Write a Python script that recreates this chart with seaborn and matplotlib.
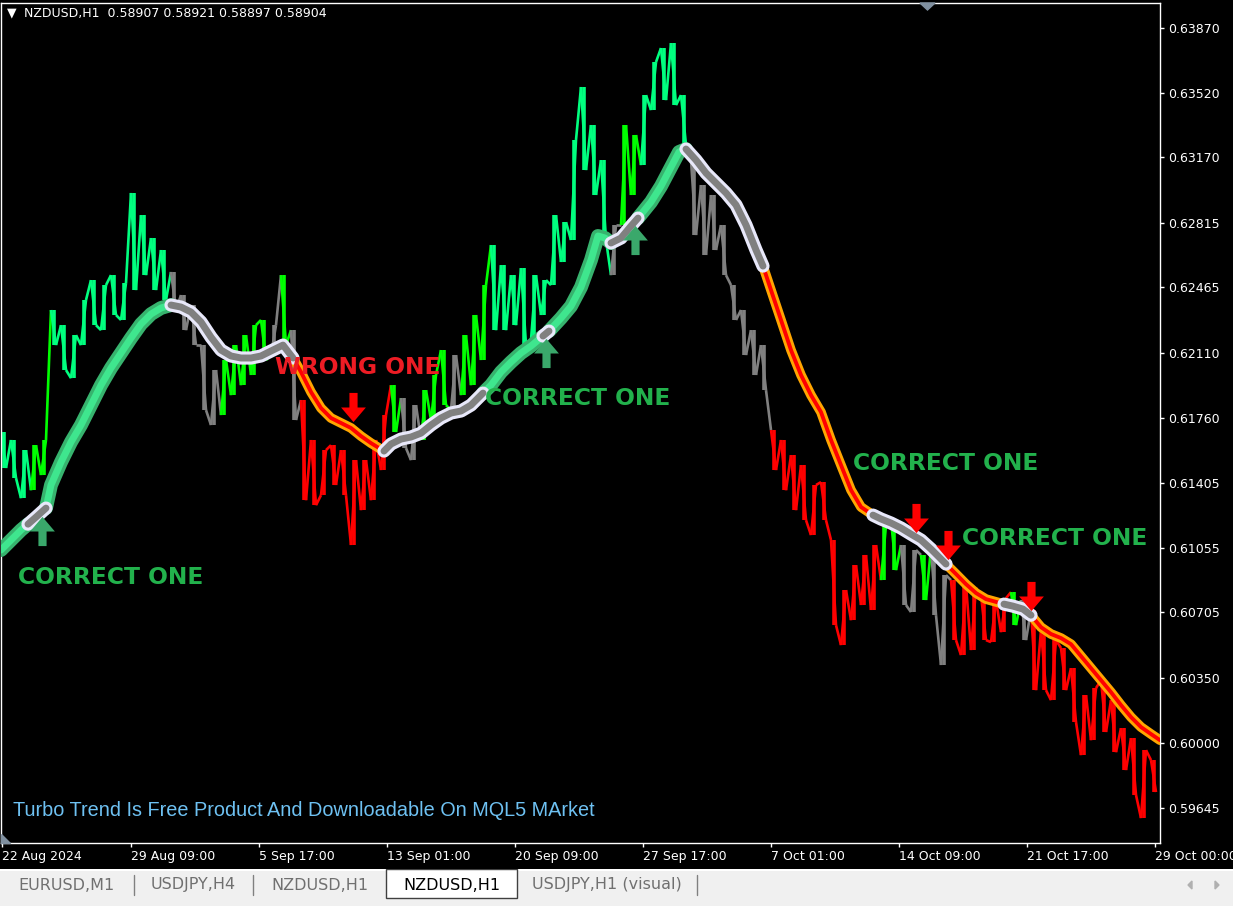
import numpy as np
import matplotlib
matplotlib.use("Agg")
import matplotlib.pyplot as plt
import seaborn as sns
import pandas as pd
from matplotlib.path import Path
from matplotlib.collections import LineCollection
from matplotlib.patches import Rectangle, Polygon
import matplotlib.patheffects as pe

# ---------------- data ----------------
symbol = "NZDUSD,H1"
ohlc_last = ["0.58907", "0.58921", "0.58897", "0.58904"]

col_bar = list(range(0, 1160, 10))
bar_high = [
    0.61682, 0.61639, 0.61584, 0.61611, 0.61639, 0.62343, 0.62261, 0.62207, 0.62397, 0.62505,
    0.62478, 0.62532, 0.62489, 0.62977, 0.62857, 0.62733, 0.62668, 0.62549, 0.62424, 0.62370,
    0.62153, 0.62018, 0.62072, 0.62153, 0.62207, 0.62261, 0.62289, 0.62261, 0.62532, 0.62234,
    0.61855, 0.61639, 0.61584, 0.61611, 0.61584, 0.61530, 0.61530, 0.61639, 0.61774, 0.61936,
    0.61866, 0.61828, 0.61909, 0.61991, 0.62126, 0.62099, 0.62207, 0.62316, 0.62478, 0.62695,
    0.62586, 0.62532, 0.62570, 0.62532, 0.62505, 0.62857, 0.62819, 0.63264, 0.63551, 0.63345,
    0.63155, 0.62803, 0.63345, 0.63291, 0.63507, 0.63686, 0.63762, 0.63789, 0.63507, 0.63155,
    0.63020, 0.62966, 0.62803, 0.62478, 0.62343, 0.62234, 0.62153, 0.61693, 0.61639, 0.61557,
    0.61503, 0.61395, 0.61411, 0.61097, 0.60826, 0.60961, 0.61016, 0.61070, 0.61178, 0.61205,
    0.61070, 0.61043, 0.61016, 0.61053, 0.60907, 0.60880, 0.60853, 0.60837, 0.60799, 0.60772,
    0.60782, 0.60815, 0.60772, 0.60718, 0.60609, 0.60555, 0.60512, 0.60403, 0.60257, 0.60295,
    0.60338, 0.60230, 0.60078, 0.60024, 0.59959, 0.59905,
]
bar_low = [
    0.61487, 0.61433, 0.61324, 0.61367, 0.61449, 0.62153, 0.62018, 0.61974, 0.62153, 0.62261,
    0.62234, 0.62316, 0.62289, 0.62451, 0.62532, 0.62451, 0.62397, 0.62343, 0.62234, 0.62153,
    0.61801, 0.61720, 0.61774, 0.61882, 0.61936, 0.61991, 0.62072, 0.62099, 0.62153, 0.61747,
    0.61313, 0.61286, 0.61340, 0.61395, 0.61340, 0.61070, 0.61259, 0.61313, 0.61476, 0.61682,
    0.61595, 0.61530, 0.61639, 0.61747, 0.61828, 0.61801, 0.61882, 0.61936, 0.62072, 0.62234,
    0.62234, 0.62261, 0.62153, 0.62180, 0.62316, 0.62478, 0.62603, 0.62722, 0.63101, 0.62966,
    0.62722, 0.62532, 0.62803, 0.62966, 0.63128, 0.63426, 0.63480, 0.63453, 0.63237, 0.62749,
    0.62641, 0.62668, 0.62532, 0.62289, 0.62099, 0.61991, 0.61909, 0.61476, 0.61367, 0.61259,
    0.61205, 0.61124, 0.61205, 0.60636, 0.60528, 0.60663, 0.60745, 0.60718, 0.60880, 0.60934,
    0.60745, 0.60707, 0.60772, 0.60690, 0.60420, 0.60555, 0.60474, 0.60501, 0.60555, 0.60544,
    0.60598, 0.60636, 0.60555, 0.60284, 0.60284, 0.60230, 0.60284, 0.60111, 0.59932, 0.60013,
    0.60057, 0.59948, 0.59851, 0.59716, 0.59591, 0.59732,
]

trend_bar = [0, 10, 20, 27, 35, 45, 50, 60, 70, 80, 90, 100, 110, 120, 130, 140, 150, 160, 170,
             180, 190, 200, 210, 220, 230, 240, 250, 260, 270, 282, 292, 300, 310, 320, 330, 340,
             350, 360, 370, 383, 390, 400, 410, 420, 430, 440, 450, 460, 470, 482, 490, 500, 510,
             520, 530, 542, 548, 560, 570, 580, 590, 597, 604, 610, 620, 630, 637, 650, 660, 670,
             678, 685, 695, 705, 715, 725, 735, 745, 755, 762, 770, 780, 790, 800, 810, 820, 830,
             840, 850, 860, 872, 880, 890, 900, 910, 920, 930, 945, 955, 965, 975, 985, 1003, 1012,
             1022, 1030, 1040, 1050, 1060, 1070, 1080, 1090, 1100, 1110, 1120, 1130, 1140, 1150, 1159]
trend_price = [0.61043, 0.61097, 0.61151, 0.61183, 0.61221, 0.61270, 0.61395, 0.61519, 0.61628,
               0.61720, 0.61828, 0.61936, 0.62029, 0.62110, 0.62191, 0.62267, 0.62321, 0.62354,
               0.62370, 0.62359, 0.62332, 0.62278, 0.62196, 0.62126, 0.62094, 0.62083, 0.62083,
               0.62094, 0.62121, 0.62153, 0.62083, 0.62007, 0.61899, 0.61812, 0.61758, 0.61731,
               0.61704, 0.61660, 0.61622, 0.61579, 0.61617, 0.61644, 0.61655, 0.61676, 0.61720,
               0.61758, 0.61785, 0.61796, 0.61828, 0.61893, 0.61936, 0.62007, 0.62061, 0.62110,
               0.62148, 0.62202, 0.62229, 0.62299, 0.62364, 0.62467, 0.62614, 0.62744, 0.62733,
               0.62706, 0.62733, 0.62798, 0.62841, 0.62928, 0.63014, 0.63117, 0.63199, 0.63215,
               0.63155, 0.63085, 0.63031, 0.62977, 0.62912, 0.62803, 0.62668, 0.62581, 0.62451,
               0.62289, 0.62126, 0.61991, 0.61882, 0.61790, 0.61639, 0.61503, 0.61368, 0.61276,
               0.61232, 0.61211, 0.61189, 0.61162, 0.61129, 0.61097, 0.61048, 0.60967, 0.60913,
               0.60858, 0.60810, 0.60777, 0.60750, 0.60739, 0.60723, 0.60690, 0.60625, 0.60588,
               0.60566, 0.60533, 0.60468, 0.60403, 0.60338, 0.60273, 0.60203, 0.60138, 0.60084,
               0.60046, 0.60013]

trend_states = [(0, 27, "up"), (27, 45, "nu"), (45, 170, "up"), (170, 292, "nu"),
                (292, 383, "dn"), (383, 482, "nu"), (482, 542, "up"), (542, 548, "nu"),
                (548, 610, "up"), (610, 637, "nu"), (637, 685, "up"), (685, 762, "nu"),
                (762, 872, "dn"), (872, 945, "nu"), (945, 1003, "dn"), (1003, 1030, "nu"),
                (1030, 1159, "dn")]

up_arrow_bar = [41, 545, 634]
up_arrow_price = [0.61146, 0.62110, 0.62722]
dn_arrow_bar = [352, 915, 947, 1030]
dn_arrow_price = [0.61817, 0.61216, 0.61070, 0.60793]

notes = ["CORRECT ONE", "WRONG ONE", "CORRECT ONE", "CORRECT ONE", "CORRECT ONE"]
note_bar = [17, 274, 484, 852, 961]
note_price = [0.60896, 0.62034, 0.61861, 0.61514, 0.61108]
note_kind = ["ok", "bad", "ok", "ok", "ok"]

price_ticks = [0.63870, 0.63520, 0.63170, 0.62815, 0.62465, 0.62110, 0.61760,
               0.61405, 0.61055, 0.60705, 0.60350, 0.60000, 0.59645]
date_tick_bar = [1, 130, 258, 386, 514, 642, 770, 898, 1026, 1154]
date_labels = ["22 Aug 2024", "29 Aug 09:00", "5 Sep 17:00", "13 Sep 01:00", "20 Sep 09:00",
               "27 Sep 17:00", "7 Oct 01:00", "14 Oct 09:00", "21 Oct 17:00", "29 Oct 00:00"]
tabs = ["EURUSD,M1", "USDJPY,H4", "NZDUSD,H1", "NZDUSD,H1", "USDJPY,H1 (visual)"]
active_tab = 3
footer = "Turbo Trend Is Free Product And Downloadable On MQL5 MArket"

# ---------------- style ----------------
sns.set_style("dark", {"axes.facecolor": "black", "figure.facecolor": "black"})
plt.rcParams["font.family"] = ["DejaVu Sans"]

W, H = 1233, 906
fig = plt.figure(figsize=(W / 100, H / 100), dpi=100, facecolor="black")
ax = fig.add_axes([1 / W, (H - 843) / H, (1160 - 1) / W, (843 - 3) / H])
ax.set_facecolor("black")
ax.set_xlim(0, 1159)
ax.set_ylim(0.59456, 0.64006)


def state_at(b):
    for a, e, s in trend_states:
        if a <= b < e:
            return s
    return trend_states[-1][2]


hi = np.array(bar_high)
lo = np.array(bar_low)
mid = (hi + lo) / 2
n = len(col_bar)
colors = []
for i in range(n):
    s = state_at(col_bar[i])
    if s == "up":
        colors.append("#00FF7F")
    elif s == "dn":
        colors.append("#FF0000")
    else:
        rising = i == 0 or mid[i] >= mid[i - 1]
        colors.append("#00FF00" if rising else "#808080")

# zigzag price path
px, py, pc = [], [], []
for i in range(n):
    going_up = i + 1 < n and mid[i + 1] > mid[i]
    a, b = (lo[i], hi[i]) if going_up else (hi[i], lo[i])
    px += [col_bar[i], col_bar[i] + 5]
    py += [a, b]
    pc += [colors[i], colors[i]]
segs = [[(px[k], py[k]), (px[k + 1], py[k + 1])] for k in range(len(px) - 1)]
ax.add_collection(LineCollection(segs, colors=pc[:-1], linewidths=1.9, zorder=2))
ax.vlines([c + 2.5 for c in col_bar], lo, hi, colors=colors, linewidth=2.6, zorder=2)

# trend line
styles = {"up": dict(inner="#3FE68E", outer="#37B36E", w_in=5.0, w_out=10.0),
          "nu": dict(inner="#808080", outer="#E8E8FA", w_in=5.0, w_out=9.5),
          "dn": dict(inner="#FF0000", outer="#FFA500", w_in=2.8, w_out=7.0)}
tdf = pd.DataFrame({"bar": trend_bar, "price": trend_price})
for state in ["up", "dn", "nu"]:
    st = styles[state]
    for a, e, s in trend_states:
        if s != state:
            continue
        seg = tdf[(tdf.bar >= a) & (tdf.bar <= e)]
        sns.lineplot(data=seg, x="bar", y="price", ax=ax, color=st["inner"], lw=st["w_in"],
                     sort=False, estimator=None, solid_capstyle="round",
                     path_effects=[pe.Stroke(linewidth=st["w_out"], foreground=st["outer"],
                                             capstyle="round"), pe.Normal()],
                     legend=False, zorder=5)

# arrows
up_verts = [(0, 1), (-0.85, 0.0), (-0.28, 0.0), (-0.28, -1), (0.28, -1), (0.28, 0.0),
            (0.85, 0.0), (0, 1)]
codes = [Path.MOVETO] + [Path.LINETO] * 6 + [Path.CLOSEPOLY]
up_path = Path(up_verts, codes)
dn_path = Path([(x, -y) for x, y in up_verts], codes)
ax.plot(up_arrow_bar, up_arrow_price, ls="none", marker=up_path, ms=21, color="#3AA86B",
        mew=0, zorder=7)
ax.plot(dn_arrow_bar, dn_arrow_price, ls="none", marker=dn_path, ms=21, color="#FF0000",
        mew=0, zorder=7)

# annotations
kind_color = {"ok": "#22B14C", "bad": "#ED1C24"}
for t, b, p, k in zip(notes, note_bar, note_price, note_kind):
    ax.text(b, p, t, color=kind_color[k], fontsize=16.8, fontweight="bold",
            ha="left", va="center", zorder=8)

# axes / ticks
for sp in ax.spines.values():
    sp.set_color("white")
    sp.set_linewidth(1)
ax.grid(False)
ax.set_xlabel("")
ax.set_ylabel("")
ax.yaxis.tick_right()
ax.set_yticks(price_ticks)
ax.set_yticklabels([f"{v:.5f}" for v in price_ticks])
ax.tick_params(axis="y", colors="white", direction="out", length=3, width=1, pad=3,
               labelsize=9, right=True, left=False)
ax.set_xticks(date_tick_bar)
ax.set_xticklabels(date_labels, ha="left")
ax.tick_params(axis="x", colors="white", direction="out", length=3, width=1, pad=2,
               labelsize=9, bottom=True)

# header and footer texts
fig.text(7 / W, 1 - 13 / H, "\u25BC", color="white", fontsize=9, va="center", ha="left")
fig.text(24 / W, 1 - 13 / H, f"{symbol}  " + " ".join(ohlc_last), color="white",
         fontsize=9, va="center", ha="left")
fig.text(13 / W, 1 - 810 / H, footer, color="#6EC1F2", fontsize=14.3,
         family=["Liberation Sans"], va="center", ha="left")

# small chart markers
fig.patches.append(Polygon([[920 / W, 1 - 3 / H], [935 / W, 1 - 3 / H], [927.5 / W, 1 - 10 / H]],
                           closed=True, transform=fig.transFigure, color="#8090A0", zorder=10))
fig.patches.append(Polygon([[1 / W, 1 - 834 / H], [1 / W, 1 - 843 / H], [10 / W, 1 - 843 / H]],
                           closed=True, transform=fig.transFigure, color="#8090A0", zorder=10))

# tab bar
tb = fig.add_axes([0, 0, 1, 37 / H])
tb.set_xlim(0, W)
tb.set_ylim(37, 0)
tb.axis("off")
tb.add_patch(Rectangle((0, 0), W, 37, color="#F0F0F0", zorder=0))
tb.plot([0, W], [0.5, 0.5], color="white", lw=1.5, zorder=1)
tab_edges = [0, 134, 253, 386, 517, 697]
for i, name in enumerate(tabs):
    x0, x1 = tab_edges[i], tab_edges[i + 1]
    if i == active_tab:
        tb.add_patch(Rectangle((x0, 0), x1 - x0, 29, facecolor="white", edgecolor="#404040",
                               lw=1, zorder=2))
        tb.text((x0 + x1) / 2, 16, name, color="black", fontsize=11.5, ha="center",
                va="center", zorder=3)
    else:
        tb.text((x0 + x1) / 2, 16, name, color="#707070", fontsize=11.5, ha="center",
                va="center", zorder=3)
for xs in [134, 253, 697]:
    tb.plot([xs, xs], [6, 26], color="#808080", lw=1, zorder=2)
tb.add_patch(Polygon([[1188, 16], [1192, 12], [1192, 20]], closed=True, color="#B0B0B0"))
tb.add_patch(Polygon([[1219, 16], [1215, 12], [1215, 20]], closed=True, color="#B0B0B0"))

fig.savefig("out.png", dpi=100, facecolor="black")
